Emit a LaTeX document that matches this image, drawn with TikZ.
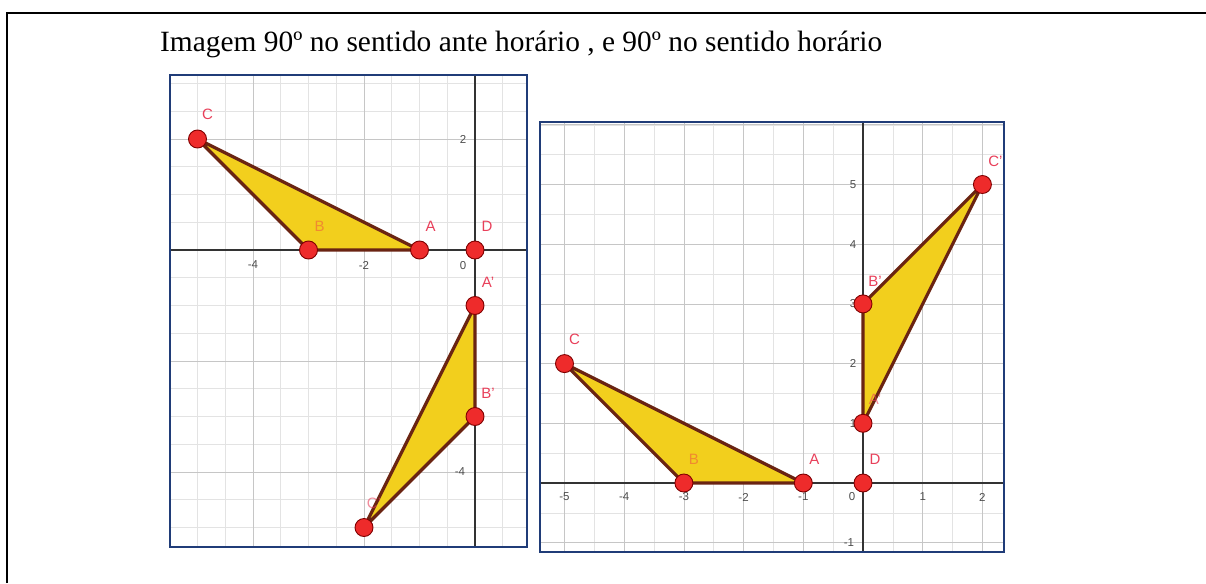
\documentclass[tikz,border=0pt]{standalone}
\usepackage{fontspec}
\setmainfont{Liberation Serif}
\setsansfont{Liberation Sans}
\usepackage{xcolor}

\definecolor{fillyel}{HTML}{F2CF1D}
\definecolor{edgebrown}{HTML}{6A2412}
\definecolor{ptred}{HTML}{EE2B2B}
\definecolor{lblred}{HTML}{E8405A}
\definecolor{lblorange}{HTML}{F08A30}
\definecolor{frameblue}{HTML}{203C78}

\tikzset{
  titletext/.style={font=\fontsize{29.4}{35}\selectfont, inner sep=0pt},
  pt/.style={circle, fill=ptred, draw=red!50!black, line width=0.9pt, inner sep=0pt, minimum size=18pt},
  ptlabel/.style={text=lblred, font=\sffamily\fontsize{15}{15}\selectfont, inner sep=0pt},
  ticklbl/.style={text=gray!60!black, font=\sffamily\fontsize{11.5}{11.5}\selectfont, inner sep=0pt},
  tri/.style={fill=fillyel, draw=edgebrown, line width=3.2pt, line join=round},
  panel/.style={draw=frameblue, line width=2pt},
  axis/.style={line width=1.2pt, draw=black!80},
  minorgrid/.style={draw=gray!22, line width=0.6pt},
  majorgrid/.style={draw=gray!45, line width=0.8pt},
}

\begin{document}
\begin{tikzpicture}[x=1pt, y=-1pt]
  \useasboundingbox (0,0) rectangle (1206,583);

  % frame of the cell
  \draw[line width=1.5pt] (7,583) -- (7,13) -- (1206,13);
  \draw[line width=2.6pt] (1065,13) -- (1206,13);

  % title
  \node[titletext, anchor=base west] (title) at (160,52) {Imagem 90º no sentido ante horário , e 90º no sentido horário};

  % left plot: counterclockwise
  \begin{scope}[shift={(475,250)}, x=55.5pt, y=55.5pt]
    \begin{scope}
      \clip (-5.5,-5.35) rectangle (0.94,3.15);
      \foreach \gx in {-5.5,-5,...,0.5} \draw[minorgrid] (\gx,-5.35) -- (\gx,3.15);
      \foreach \gy in {-5,-4.5,...,3} \draw[minorgrid] (-5.5,\gy) -- (0.94,\gy);
      \foreach \gx in {-4,-2} \draw[majorgrid] (\gx,-5.35) -- (\gx,3.15);
      \foreach \gy in {-4,-2,2} \draw[majorgrid] (-5.5,\gy) -- (0.94,\gy);
    \end{scope}
    \draw[axis] (-5.5,0) -- (0.94,0);
    \draw[axis] (0,-5.35) -- (0,3.15);
    \draw[panel] (-5.5,-5.35) rectangle (0.94,3.15);

    % ticks
    \foreach \x in {-4,-2} \node[ticklbl, yshift=-15pt] (lxt\x) at (\x,0) {-\the\numexpr-\x\relax};
    \node[ticklbl, xshift=-12pt, yshift=-16pt] (lo) at (0,0) {0};
    \node[ticklbl, xshift=-12pt] (ly2) at (0,2) {2};
    \node[ticklbl, xshift=-15pt] (lym4) at (0,-4) {-4};

    % points
    \coordinate (lA) at (-1,0);
    \coordinate (lB) at (-3,0);
    \coordinate (lC) at (-5,2);
    \coordinate (lD) at (0,0);
    \coordinate (lA') at (0,-1);
    \coordinate (lB') at (0,-3);
    \coordinate (lC') at (-2,-5);

    \filldraw[tri] (lA) -- (lB) -- (lC) -- cycle;
    \filldraw[tri] (lA') -- (lB') -- (lC') -- cycle;

    \foreach \p in {lA,lB,lC,lD,lA',lB',lC'} \node[pt] (\p dot) at (\p) {};

    \node[ptlabel] (lAl) at ([shift={(11pt,24pt)}]lA) {A};
    \node[ptlabel, text=lblorange] (lBl) at ([shift={(11pt,24pt)}]lB) {B};
    \node[ptlabel] (lCl) at ([shift={(10pt,25pt)}]lC) {C};
    \node[ptlabel] (lDl) at ([shift={(12pt,24pt)}]lD) {D};
    \node[ptlabel] (lA'l) at ([shift={(13pt,23pt)}]lA') {A'};
    \node[ptlabel] (lB'l) at ([shift={(13pt,23pt)}]lB') {B'};
    \node[ptlabel, opacity=0.6] (lC'l) at ([shift={(10pt,24pt)}]lC') {C'};
  \end{scope}

  % right plot: clockwise
  \begin{scope}[shift={(863,483)}, x=59.7pt, y=59.7pt]
    \begin{scope}
      \clip (-5.41,-1.16) rectangle (2.36,6.05);
      \foreach \gx in {-5.5,-5,...,2} \draw[minorgrid] (\gx,-1.16) -- (\gx,6.05);
      \foreach \gy in {-1,-0.5,...,6} \draw[minorgrid] (-5.41,\gy) -- (2.36,\gy);
      \foreach \gx in {-5,...,2} \draw[majorgrid] (\gx,-1.16) -- (\gx,6.05);
      \foreach \gy in {-1,...,6} \draw[majorgrid] (-5.41,\gy) -- (2.36,\gy);
    \end{scope}
    \draw[axis] (-5.41,0) -- (2.36,0);
    \draw[axis] (0,-1.16) -- (0,6.05);
    \draw[panel] (-5.41,-1.16) rectangle (2.36,6.05);

    % ticks
    \foreach \x in {-5,-4,-3,-2,-1} \node[ticklbl, yshift=-14pt] (rxt\x) at (\x,0) {-\the\numexpr-\x\relax};
    \foreach \x in {1,2} \node[ticklbl, yshift=-14pt] (rxt\x) at (\x,0) {\x};
    \node[ticklbl, xshift=-11pt, yshift=-14pt] (ro) at (0,0) {0};
    \foreach \y in {1,...,5} \node[ticklbl, xshift=-10pt] (ryt\y) at (0,\y) {\y};
    \node[ticklbl, xshift=-14pt] (rytm1) at (0,-1) {-1};

    % points
    \coordinate (rA) at (-1,0);
    \coordinate (rB) at (-3,0);
    \coordinate (rC) at (-5,2);
    \coordinate (rD) at (0,0);
    \coordinate (rA') at (0,1);
    \coordinate (rB') at (0,3);
    \coordinate (rC') at (2,5);

    \filldraw[tri] (rA) -- (rB) -- (rC) -- cycle;
    \filldraw[tri] (rA') -- (rB') -- (rC') -- cycle;

    \foreach \p in {rA,rB,rC,rD,rA',rB',rC'} \node[pt] (\p dot) at (\p) {};

    \node[ptlabel] (rAl) at ([shift={(11pt,24pt)}]rA) {A};
    \node[ptlabel, text=lblorange] (rBl) at ([shift={(10pt,24pt)}]rB) {B};
    \node[ptlabel] (rCl) at ([shift={(10pt,24pt)}]rC) {C};
    \node[ptlabel] (rDl) at ([shift={(12pt,24pt)}]rD) {D};
    \node[ptlabel, opacity=0.6] (rA'l) at ([shift={(12pt,24pt)}]rA') {A'};
    \node[ptlabel] (rB'l) at ([shift={(12pt,23pt)}]rB') {B'};
    \node[ptlabel] (rC'l) at ([shift={(13pt,23pt)}]rC') {C'};
  \end{scope}
\end{tikzpicture}
\end{document}
